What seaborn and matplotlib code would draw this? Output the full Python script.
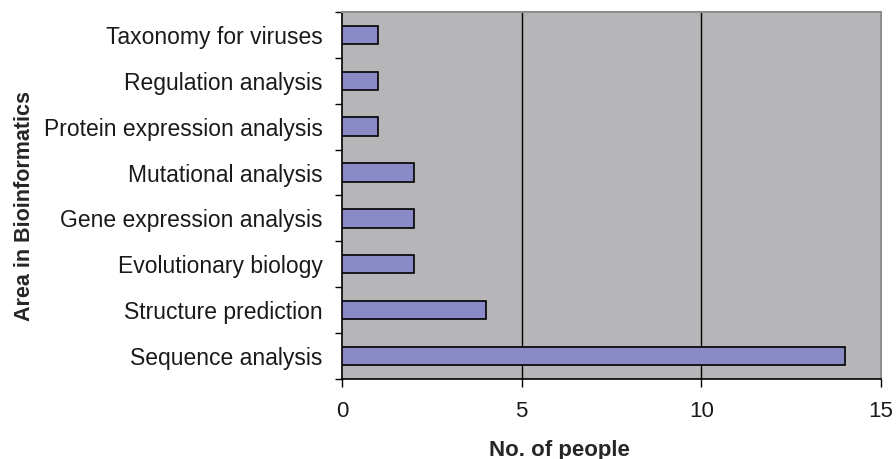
import matplotlib
matplotlib.use("Agg")
import matplotlib.pyplot as plt
import seaborn as sns
import pandas as pd
import numpy as np

categories = ["Taxonomy for viruses", "Regulation analysis", "Protein expression analysis",
              "Mutational analysis", "Gene expression analysis", "Evolutionary biology",
              "Structure prediction", "Sequence analysis"]
values = [1, 1, 1, 2, 2, 2, 4, 14]
xticks = [0, 5, 10, 15]

sns.set_theme(style="white")
plt.rcParams['font.family'] = ['Liberation Sans', 'DejaVu Sans']

df = pd.DataFrame({"area": categories, "people": values})

fig = plt.figure(figsize=(8.96, 4.59), dpi=100)
ax = fig.add_axes([0.3817, 0.1743, 0.6016, 0.7996])
ax.set_facecolor("#B6B6B9")

sns.barplot(data=df, y="area", x="people", order=categories, orient="h",
            color="#8A8AC6", saturation=1, width=0.4, edgecolor="black", linewidth=1.2, ax=ax, zorder=3)

ax.set_xlim(0, 15)
ax.set_ylim(len(categories) - 0.5, -0.5)
ax.set_xticks(xticks)
ax.set_xticklabels([str(t) for t in xticks], fontsize=16, color="#1a1a1a")
for x in [5, 10]:
    ax.axvline(x, color="black", lw=1, zorder=1)

ax.set_yticks(range(len(categories)))
ax.set_yticklabels(categories, fontsize=16.5, color="#1a1a1a")
ax.set_yticks(np.arange(-0.5, len(categories)), minor=True)
ax.tick_params(axis="y", which="major", length=0, pad=14)
ax.tick_params(axis="y", which="minor", length=5, width=1, color="black", direction="out", left=True)
ax.tick_params(axis="x", which="major", length=6, width=1, color="black", direction="out", bottom=True, pad=10)

for s in ["left", "bottom"]:
    ax.spines[s].set_color("black")
    ax.spines[s].set_linewidth(1.2)
for s in ["top", "right"]:
    ax.spines[s].set_color("#8E8E92")
    ax.spines[s].set_linewidth(1.5)

ax.set_xlabel("No. of people", fontsize=16, fontweight="bold")
ax.xaxis.set_label_coords(0.404, -0.165)
ax.set_ylabel("Area in Bioinformatics", fontsize=15.5, fontweight="bold")
ax.yaxis.set_label_coords(-0.57, 0.47)

fig.savefig("out.png", dpi=100)
